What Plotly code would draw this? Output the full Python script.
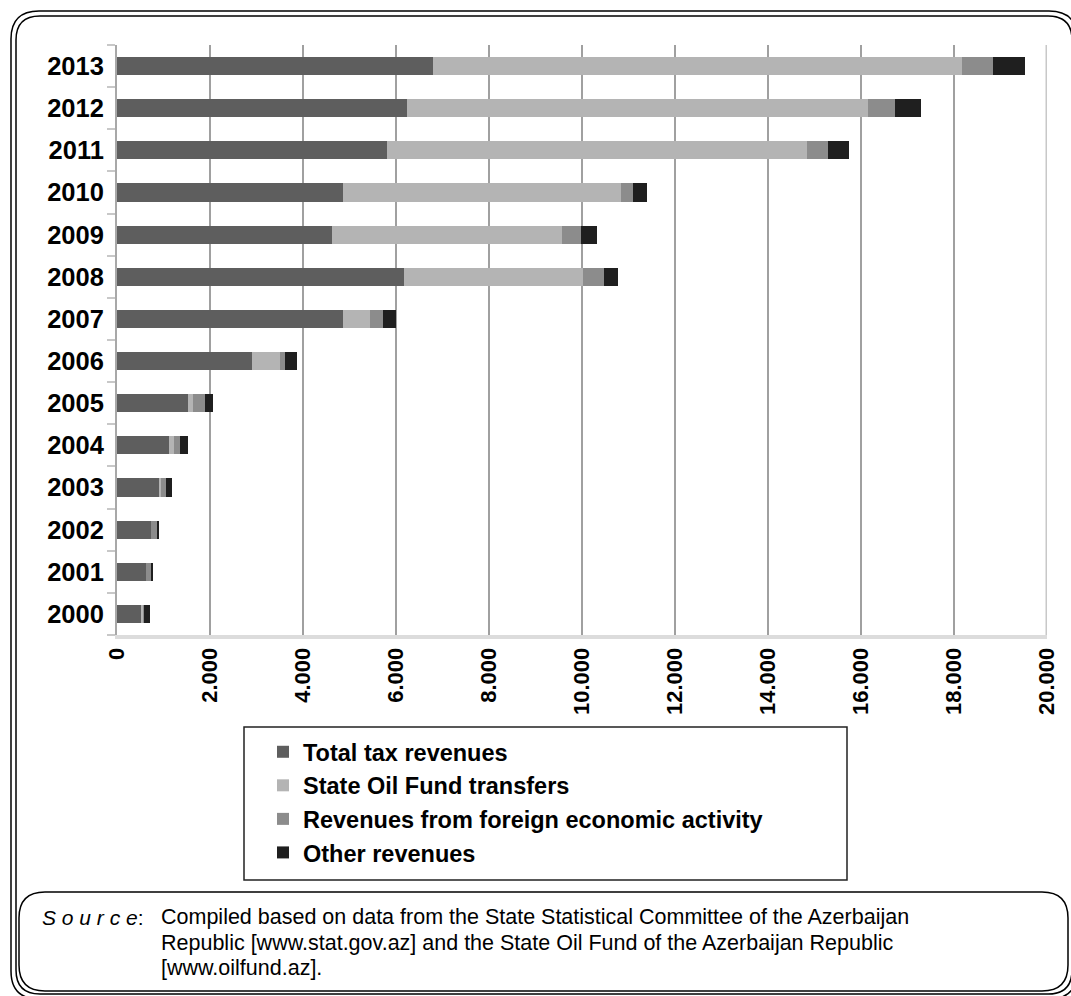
import plotly.graph_objects as go

# ---------------- data ----------------
years = ["2000", "2001", "2002", "2003", "2004", "2005", "2006",
         "2007", "2008", "2009", "2010", "2011", "2012", "2013"]
tax_revenues = [530, 620, 740, 900, 1120, 1530, 2900, 4860, 6170, 4620, 4860, 5800, 6230, 6790]
oil_fund_transfers = [30, 0, 0, 50, 100, 100, 600, 570, 3850, 4950, 5980, 9040, 9920, 11380]
foreign_activity = [30, 120, 110, 100, 130, 260, 110, 290, 450, 410, 260, 450, 580, 670]
other_revenues = [130, 40, 50, 140, 180, 170, 260, 280, 300, 340, 290, 450, 560, 690]

series_names = ["Total tax revenues", "State Oil Fund transfers",
                "Revenues from foreign economic activity", "Other revenues"]
series_values = [tax_revenues, oil_fund_transfers, foreign_activity, other_revenues]
series_colors = ["#5e5e5e", "#b4b4b4", "#8c8c8c", "#1f1f1f"]

x_tick_values = [0, 2000, 4000, 6000, 8000, 10000, 12000, 14000, 16000, 18000, 20000]
x_tick_labels = ["0", "2.000", "4.000", "6.000", "8.000", "10.000",
                 "12.000", "14.000", "16.000", "18.000", "20.000"]

source_lines = [
    "Compiled based on data from the State Statistical Committee of the Azerbaijan",
    "Republic [www.stat.gov.az] and the State Oil Fund of the Azerbaijan Republic",
    "[www.oilfund.az].",
]

# ---------------- layout geometry (pixels) ----------------
W, H = 1071, 996
L, R, T, B = 117, 1047, 45, 635
FONT = "Arial, Liberation Sans, sans-serif"


def px(x):
    return (x - L) / (R - L)


def py(y):
    return (B - y) / (B - T)


def rrect(x0, y0, x1, y1, r):
    pts = [
        ("M", [(x0 + r, y0)]),
        ("L", [(x1 - r, y0)]),
        ("Q", [(x1, y0), (x1, y0 + r)]),
        ("L", [(x1, y1 - r)]),
        ("Q", [(x1, y1), (x1 - r, y1)]),
        ("L", [(x0 + r, y1)]),
        ("Q", [(x0, y1), (x0, y1 - r)]),
        ("L", [(x0, y0 + r)]),
        ("Q", [(x0, y0), (x0 + r, y0)]),
    ]
    s = ""
    for cmd, ps in pts:
        s += cmd + " ".join(f"{px(a):.5f},{py(b):.5f}" for a, b in ps) + " "
    return s + "Z"


fig = go.Figure()
for name, vals, col in zip(series_names, series_values, series_colors):
    fig.add_trace(go.Bar(
        y=years, x=vals, name=name, orientation="h",
        marker=dict(color=col, line=dict(width=0)),
    ))

shapes = [
    dict(type="path", xref="paper", yref="paper", path=rrect(11, 11, 1077, 999, 28),
         line=dict(color="black", width=1.5), layer="above"),
    dict(type="path", xref="paper", yref="paper", path=rrect(16, 16, 1072, 994, 24),
         line=dict(color="black", width=1.5), layer="above"),
    dict(type="path", xref="paper", yref="paper", path=rrect(19, 892, 1068, 991, 26),
         line=dict(color="black", width=1.5), layer="above"),
    dict(type="rect", xref="paper", yref="paper",
         x0=px(244), x1=px(847), y0=py(727), y1=py(880),
         line=dict(color="#222222", width=1.5), layer="above"),
    dict(type="line", xref="x", yref="paper", x0=20000, x1=20000, y0=0, y1=1,
         line=dict(color="#c8c8c8", width=3), layer="above"),
]

annotations = [
    dict(xref="paper", yref="paper", x=px(40), y=py(917), xanchor="left", yanchor="middle",
         text="<i>S o u r c e</i>:", showarrow=False,
         font=dict(family=FONT, size=21, color="black")),
]
for i, line in enumerate(source_lines):
    annotations.append(dict(
        xref="paper", yref="paper", x=px(159), y=py(917 + 25.5 * i),
        xanchor="left", yanchor="middle", text=line, showarrow=False, align="left",
        font=dict(family=FONT, size=21.5, color="black")))

fig.update_layout(
    width=W, height=H,
    margin=dict(l=L, r=W - R, t=T, b=H - B, pad=0),
    barmode="stack",
    bargap=0.57,
    paper_bgcolor="white",
    plot_bgcolor="white",
    font=dict(family=FONT, color="black"),
    showlegend=True,
    legend=dict(
        x=px(263), y=py(730), xanchor="left", yanchor="top",
        traceorder="normal", bgcolor="rgba(0,0,0,0)", borderwidth=0,
        font=dict(family=FONT, size=23.5, color="black", weight="bold"),
    ),
    xaxis=dict(
        range=[0, 20000], tickvals=x_tick_values, ticktext=x_tick_labels,
        tickangle=-90, showgrid=True, gridcolor="#a0a0a0", gridwidth=2,
        showline=True, linecolor="#dcdcdc", linewidth=4, zeroline=False,
        ticks="", tickfont=dict(family=FONT, size=22, color="black", weight="bold"),
    ),
    yaxis=dict(
        type="category", categoryorder="array", categoryarray=years,
        showgrid=False, showline=True, linecolor="#a8a8a8", linewidth=2,
        ticks="outside", tickson="boundaries", ticklen=8, tickwidth=2, tickcolor="#c8c8c8",
        ticklabelstandoff=6,
        tickfont=dict(family=FONT, size=25.5, color="black", weight="bold"),
    ),
    shapes=shapes,
    annotations=annotations,
)

fig.write_html("out.html")
